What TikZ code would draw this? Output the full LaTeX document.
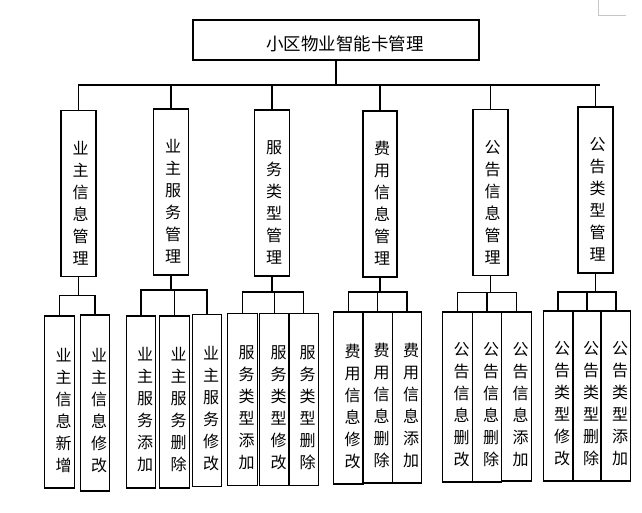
\documentclass[tikz,border=0pt]{standalone}
\usepackage{fontspec}
\newfontfamily\cjk{Noto Sans CJK SC}
\usepackage{tikz}
\usetikzlibrary{positioning}

\begin{document}
\begin{tikzpicture}[
    x=1pt, y=-1pt,
    box/.style={draw, line width=1.2pt, inner sep=0pt, outer sep=0pt},
    mgr/.style={box, minimum width=35pt, minimum height=166pt},
    leaf/.style={box, minimum width=29.5pt, minimum height=172pt},
    vtxt/.style={font=\cjk\fontsize{16}{22}\selectfont, align=center},
    wire/.style={line width=1.2pt, line cap=rect},
]
\useasboundingbox (0,0) rectangle (642,513);

% page corner mark (top right)
\draw[gray!45, line width=1pt] (598,0) -- (598,16) -- (626,16);

% ===================================================================
%  ROOT
% ===================================================================
\node[box, minimum width=286pt, minimum height=40pt,
      label={[font=\cjk\fontsize{17.5}{20}\selectfont, xshift=9pt,
              yshift=-4pt]center:小区物业智能卡管理}] (root) at (336,40) {};

% ===================================================================
%  SECOND LEVEL: management modules
% ===================================================================
\node[mgr, label={[vtxt, xshift=2pt, yshift=-9.5pt]center:业\\主\\信\\息\\管\\理}]
    (M1) at (78.5,193.5) {};
\node[mgr, label={[vtxt, xshift=2pt, yshift=-9.5pt]center:业\\主\\服\\务\\管\\理}]
    (M2) at (171,192) {};
\node[mgr, label={[vtxt, xshift=2pt, yshift=-9.5pt]center:服\\务\\类\\型\\管\\理}]
    (M3) at (272,193) {};
\node[mgr, minimum width=34pt,
      label={[vtxt, xshift=2pt, yshift=-9.5pt]center:费\\用\\信\\息\\管\\理}]
    (M4) at (380,194) {};
\node[mgr, label={[vtxt, xshift=2pt, yshift=-9.5pt]center:公\\告\\信\\息\\管\\理}]
    (M5) at (490.5,192.5) {};
\node[mgr, label={[vtxt, xshift=2pt, yshift=-9.5pt]center:公\\告\\类\\型\\管\\理}]
    (M6) at (595.5,190) {};

% root -> modules
\draw[wire] (root.south) -- ++(0,25) coordinate (H0);
\draw[wire] (M1.north |- H0) -- ([xshift=4pt]M6.north |- H0);
\foreach \m in {M1,M2,M3,M4,M5,M6}
    \draw[wire] (\m.north |- H0) -- (\m.north);

% ===================================================================
%  THIRD LEVEL: operations
% ===================================================================
% owner info
\node[leaf, label={[vtxt, xshift=4pt, yshift=-8pt]center:业\\主\\信\\息\\新\\增}]
    (L1a) at (59.5,402) {};
\node[leaf, minimum height=176pt,
      label={[vtxt, xshift=4pt, yshift=-8pt]center:业\\主\\信\\息\\修\\改}]
    (L1b) at (95,403) {};

% owner service
\node[leaf, label={[vtxt, xshift=4pt, yshift=-8pt]center:业\\主\\服\\务\\添\\加}]
    (L2a) at (141,402) {};
\node[leaf, label={[vtxt, xshift=4pt, yshift=-8pt]center:业\\主\\服\\务\\删\\除}]
    (L2b) at (174.5,402) {};
\node[leaf, label={[vtxt, xshift=4pt, yshift=-8pt]center:业\\主\\服\\务\\修\\改}]
    (L2c) at (207,400.5) {};

% service type
\node[leaf, label={[vtxt, xshift=4pt, yshift=-8pt]center:服\\务\\类\\型\\添\\加}]
    (L3a) at (242.5,399.5) {};
\node[leaf, label={[vtxt, xshift=4pt, yshift=-8pt]center:服\\务\\类\\型\\修\\改}]
    (L3b) at (274.5,399.5) {};
\node[leaf, label={[vtxt, xshift=4pt, yshift=-8pt]center:服\\务\\类\\型\\删\\除}]
    (L3c) at (303.5,399.5) {};

% fee info
\node[leaf, label={[vtxt, xshift=4pt, yshift=-8pt]center:费\\用\\信\\息\\修\\改}]
    (L4a) at (348.5,398) {};
\node[leaf, minimum height=171pt,
      label={[vtxt, xshift=4pt, yshift=-8pt]center:费\\用\\信\\息\\删\\除}]
    (L4b) at (377.5,397.5) {};
\node[leaf, minimum height=171pt,
      label={[vtxt, xshift=4pt, yshift=-8pt]center:费\\用\\信\\息\\添\\加}]
    (L4c) at (407,397.5) {};

% notice info
\node[leaf, minimum height=170pt,
      label={[vtxt, xshift=4pt, yshift=-8pt]center:公\\告\\信\\息\\删\\改}]
    (L5a) at (457.5,397) {};
\node[leaf, minimum height=170pt,
      label={[vtxt, xshift=4pt, yshift=-8pt]center:公\\告\\信\\息\\删\\除}]
    (L5b) at (487,397) {};
\node[leaf, minimum height=169pt,
      label={[vtxt, xshift=4pt, yshift=-8pt]center:公\\告\\信\\息\\添\\加}]
    (L5c) at (516.5,396.5) {};

% notice type
\node[leaf, minimum height=170pt,
      label={[vtxt, xshift=4pt, yshift=-8pt]center:公\\告\\类\\型\\修\\改}]
    (L6a) at (558,396) {};
\node[leaf, minimum width=28pt, minimum height=170pt,
      label={[vtxt, xshift=4pt, yshift=-8pt]center:公\\告\\类\\型\\删\\除}]
    (L6b) at (587,396) {};
\node[leaf, minimum height=170pt,
      label={[vtxt, xshift=4pt, yshift=-8pt]center:公\\告\\类\\型\\添\\加}]
    (L6c) at (616,396) {};

% modules -> operations
\draw[wire] (M1.south) -- ++(0,19) coordinate (H1);
\draw[wire] (L1a.north |- H1) -- (L1b.north |- H1);
\foreach \l in {L1a,L1b} \draw[wire] (\l.north |- H1) -- (\l.north);

\draw[wire] (M2.south) -- ++(0,15) coordinate (H2);
\draw[wire] (L2a.north |- H2) -- (L2c.north |- H2);
\foreach \l in {L2a,L2b,L2c} \draw[wire] (\l.north |- H2) -- (\l.north);

\draw[wire] (M3.south) -- ++(0,16) coordinate (H3);
\draw[wire] (L3a.north |- H3) -- (L3c.north |- H3);
\foreach \l in {L3a,L3b,L3c} \draw[wire] (\l.north |- H3) -- (\l.north);

\draw[wire] (M4.south) -- ++(0,15) coordinate (H4);
\draw[wire] (L4a.north |- H4) -- (L4c.north |- H4);
\foreach \l in {L4a,L4b,L4c} \draw[wire] (\l.north |- H4) -- (\l.north);

\draw[wire] (M5.south) -- ++(0,17) coordinate (H5);
\draw[wire] (L5a.north |- H5) -- (L5c.north |- H5);
\foreach \l in {L5a,L5b,L5c} \draw[wire] (\l.north |- H5) -- (\l.north);

\draw[wire] (M6.south) -- ++(0,19) coordinate (H6);
\draw[wire] (L6a.north |- H6) -- (L6c.north |- H6);
\foreach \l in {L6a,L6b,L6c} \draw[wire] (\l.north |- H6) -- (\l.north);

\end{tikzpicture}
\end{document}
